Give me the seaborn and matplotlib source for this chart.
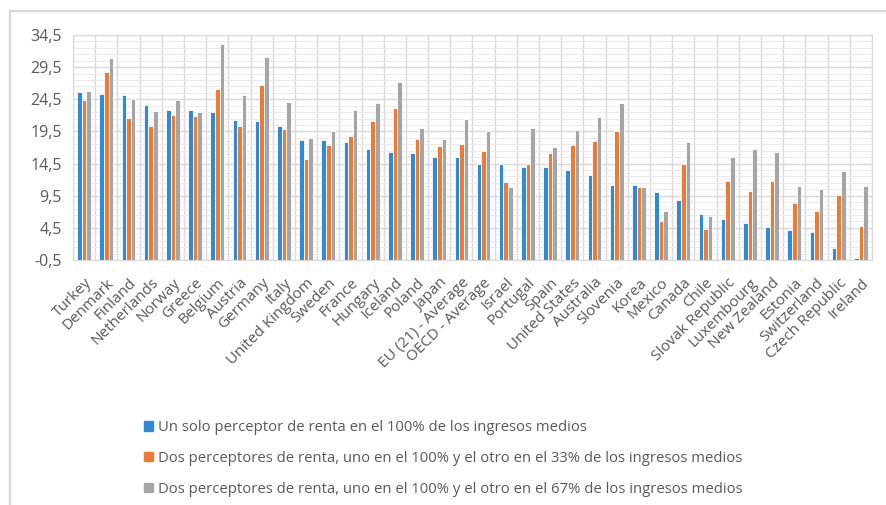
import numpy as np
import pandas as pd
import matplotlib
matplotlib.use("Agg")
import matplotlib.pyplot as plt
from matplotlib.patches import Rectangle
from matplotlib.ticker import FixedLocator
import seaborn as sns

# ============================================
# DATA
# ============================================

countries = [
    "Turkey", "Denmark", "Finland", "Netherlands", "Norway", "Greece", "Belgium",
    "Austria", "Germany", "Italy", "United Kingdom", "Sweden", "France", "Hungary",
    "Iceland", "Poland", "Japan", "EU (21) - Average", "OECD - Average", "Israel",
    "Portugal", "Spain", "United States", "Australia", "Slovenia", "Korea", "Mexico",
    "Canada", "Chile", "Slovak Republic", "Luxembourg", "New Zealand", "Estonia",
    "Switzerland", "Czech Republic", "Ireland",
]

one_earner_100 = [
    25.7, 25.3, 25.1, 23.6, 22.9, 22.8, 22.6, 21.3, 21.1, 20.4, 18.2, 18.1, 17.8, 16.7,
    16.3, 16.1, 15.6, 15.5, 14.4, 14.4, 14.0, 13.9, 13.5, 12.7, 11.1, 11.1, 10.1,
    8.8, 6.7, 5.9, 5.3, 4.6, 4.1, 3.8, 1.3, -0.2,
]
two_earners_33 = [
    24.4, 28.8, 21.6, 20.4, 22.1, 21.9, 26.1, 20.4, 26.7, 19.9, 15.2, 17.4, 18.8, 21.1,
    23.2, 18.4, 17.2, 17.6, 16.4, 11.6, 14.5, 16.2, 17.4, 18.0, 19.5, 10.8, 5.6,
    14.4, 4.4, 11.8, 10.2, 11.8, 8.4, 7.1, 9.6, 4.8,
]
two_earners_67 = [
    25.8, 31.0, 24.6, 22.7, 24.4, 22.6, 33.1, 25.2, 31.1, 24.1, 18.5, 19.6, 22.9, 23.9,
    27.2, 20.0, 18.4, 21.4, 19.6, 10.8, 20.1, 17.1, 19.7, 21.7, 24.0, 10.9, 7.2,
    17.9, 6.4, 15.5, 16.7, 16.3, 11.0, 10.5, 13.3, 11.0,
]

series_names = [
    "Un solo perceptor de renta en el 100% de los ingresos medios",
    "Dos perceptores de renta, uno en el 100% y el otro en el 33% de los ingresos medios",
    "Dos perceptores de renta, uno en el 100% y el otro en el 67% de los ingresos medios",
]
colors = ["#2F8AD8", "#EE7A34", "#A5A5A5"]

y_ticks = [-0.5, 4.5, 9.5, 14.5, 19.5, 24.5, 29.5, 34.5]

df = pd.DataFrame({
    "country": countries * 3,
    "serie": [series_names[0]] * len(countries)
    + [series_names[1]] * len(countries)
    + [series_names[2]] * len(countries),
    "value": one_earner_100 + two_earners_33 + two_earners_67,
})

# ============================================
# PLOT
# ============================================

sns.set_style("white")
plt.rcParams["font.family"] = ["Open Sans", "DejaVu Sans"]

fig = plt.figure(figsize=(8.87, 5.05), dpi=100)
ax = fig.add_axes([73 / 887, 1 - 260 / 505, 799 / 887, 225 / 505])

sns.barplot(
    data=df, x="country", y="value", hue="serie", order=countries,
    hue_order=series_names, palette=colors, width=0.62, ax=ax,
    edgecolor="white", linewidth=0.6, saturation=1, legend=False,
)

# Excel-style: bars start from the bottom of the axis (-0.5)
ymin = y_ticks[0]
for p in ax.patches:
    top = p.get_y() + p.get_height()
    p.set_y(ymin)
    p.set_height(top - ymin)

ax.set_ylim(ymin, y_ticks[-1])
ax.set_xlim(-0.5, len(countries) - 0.5)
ax.yaxis.set_major_locator(FixedLocator(y_ticks))
ax.yaxis.set_minor_locator(FixedLocator(np.arange(ymin, y_ticks[-1] + 0.01, 1.0)))
ax.set_yticklabels([f"{t:.1f}".replace(".", ",") for t in y_ticks])
ax.xaxis.set_minor_locator(FixedLocator(np.arange(-0.5, len(countries), 1.0)))

ax.grid(which="major", axis="y", color="#D9D9D9", linewidth=1.0)
ax.grid(which="minor", axis="y", color="#EBEBEB", linewidth=0.7)
ax.grid(which="minor", axis="x", color="#D9D9D9", linewidth=1.0)
ax.set_axisbelow(True)
for s in ax.spines.values():
    s.set_color("#D9D9D9")
ax.tick_params(which="both", length=0)
ax.tick_params(axis="y", labelsize=11.5, labelcolor="#595959", pad=8)
ax.tick_params(axis="x", labelsize=11, labelcolor="#595959", pad=11)
plt.setp(ax.get_xticklabels(), rotation=45, ha="right", rotation_mode="anchor")
ax.set_xlabel("")
ax.set_ylabel("")

# legend below
handles = [Rectangle((0, 0), 1, 1, color=c) for c in colors]
fig.legend(
    handles, series_names, loc="upper left", bbox_to_anchor=(131 / 887, 1 - 407 / 505),
    frameon=False, ncol=1, fontsize=10.7, labelcolor="#595959",
    handlelength=0.6, handleheight=0.6, handletextpad=0.35, labelspacing=1.05,
)

# outer chart frame
fig.patches.append(Rectangle(
    (10 / 887, -0.1), 1.2, 1 - 11 / 505 + 0.1, transform=fig.transFigure,
    fill=False, edgecolor="#D9D9D9", linewidth=1.6,
))

fig.savefig("out.png", dpi=100)
